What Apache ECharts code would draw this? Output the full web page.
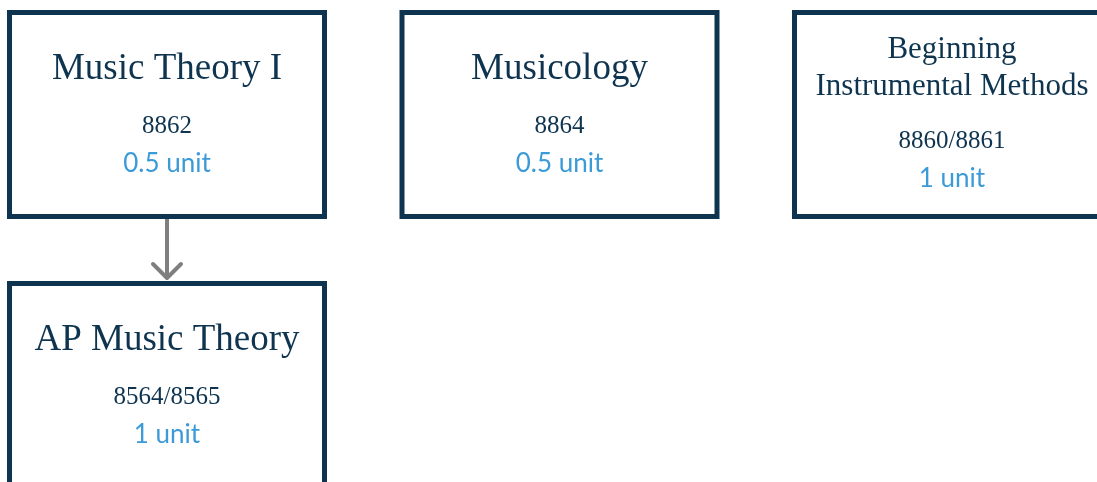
<!DOCTYPE html>
<html>
<head>
<meta charset="utf-8">
<script src="https://cdn.jsdelivr.net/npm/echarts@6/dist/echarts.min.js"></script>
<style>
html,body{margin:0;padding:0;background:#ffffff;}
#chart{width:1097px;height:482px;}
</style>
</head>
<body>
<div id="chart"></div>
<script>
// ---- data ----
const courseTitles = ['Music Theory I', 'Musicology', 'Beginning\nInstrumental Methods', 'AP Music Theory'];
const courseCodes = ['8862', '8864', '8860/8861', '8564/8565'];
const courseUnits = ['0.5 unit', '0.5 unit', '1 unit', '1 unit'];
const courseCol = [0, 1, 2, 0];
const courseRow = [0, 0, 0, 1];
const prereqFrom = [0];
const prereqTo = [3];

// ---- styles ----
const BOX_W = 315, BOX_H = 204, BORDER = 5;
const NAVY = '#0e344f', BLUE = '#3b9ad8', GREY = '#7f7f7f';
const SERIF = '"Liberation Serif", "DejaVu Serif", serif';
const SANS = 'Lato, "Open Sans", sans-serif';

const nodeData = courseTitles.map((t, i) => [courseCol[i], courseRow[i], i]);
const edgeData = prereqFrom.map((f, i) => [courseCol[f], courseRow[f], courseCol[prereqTo[i]], courseRow[prereqTo[i]]]);

function renderNode(params, api) {
  const idx = api.value(2);
  const c = api.coord([api.value(0), api.value(1)]);
  const top = c[1] - (BOX_H + BORDER) / 2;
  const lines = courseTitles[idx].split('\n');
  const children = [{
    type: 'rect',
    shape: { x: c[0] - BOX_W / 2, y: c[1] - BOX_H / 2, width: BOX_W, height: BOX_H },
    style: { fill: '#ffffff', stroke: NAVY, lineWidth: BORDER }
  }];
  let shift = 0;
  if (lines.length === 1) {
    children.push({ type: 'text', style: { x: c[0], y: top + 59.5, text: lines[0], font: '37px ' + SERIF, fill: NAVY, align: 'center', verticalAlign: 'middle' } });
  } else {
    lines.forEach((ln, k) => {
      children.push({ type: 'text', style: { x: c[0], y: top + 40 + k * 37, text: ln, font: '31px ' + SERIF, fill: NAVY, align: 'center', verticalAlign: 'middle' } });
    });
    shift = 15;
  }
  children.push({ type: 'text', style: { x: c[0], y: top + 116 + shift, text: courseCodes[idx], font: '25px ' + SERIF, fill: NAVY, align: 'center', verticalAlign: 'middle' } });
  children.push({ type: 'text', style: { x: c[0], y: top + 154 + shift, text: courseUnits[idx], font: '26px ' + SANS, fill: BLUE, align: 'center', verticalAlign: 'middle' } });
  return { type: 'group', children };
}

function renderEdge(params, api) {
  const a = api.coord([api.value(0), api.value(1)]);
  const b = api.coord([api.value(2), api.value(3)]);
  const y0 = a[1] + (BOX_H + BORDER) / 2;
  const y1 = b[1] - (BOX_H + BORDER) / 2 - 3;
  const x = a[0];
  return {
    type: 'group',
    children: [
      { type: 'line', shape: { x1: x, y1: y0, x2: x, y2: y1 - 1 }, style: { stroke: GREY, lineWidth: 4 } },
      { type: 'polyline', shape: { points: [[x - 14, y1 - 14], [x, y1], [x + 14, y1 - 14]] }, style: { stroke: GREY, lineWidth: 4, fill: null, lineJoin: 'round', lineCap: 'round' } }
    ]
  };
}

const chart = echarts.init(document.getElementById('chart'), null, { renderer: 'canvas' });
chart.setOption({
  backgroundColor: '#ffffff',
  animation: false,
  grid: { left: 167, top: 114.5, width: 785, height: 271 },
  xAxis: { type: 'value', min: 0, max: 2, show: false },
  yAxis: { type: 'value', min: 0, max: 1, inverse: true, show: false },
  series: [
    { type: 'custom', renderItem: renderEdge, data: edgeData, clip: false, silent: true, z: 1 },
    { type: 'custom', renderItem: renderNode, data: nodeData, clip: false, silent: true, z: 2 }
  ]
});
</script>
</body>
</html>
